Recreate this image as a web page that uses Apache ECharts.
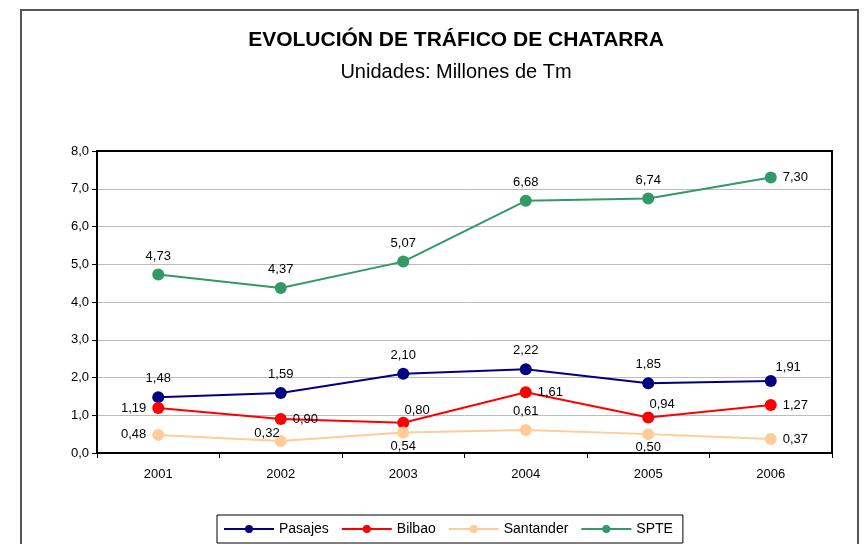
<!DOCTYPE html>
<html>
<head>
<meta charset="utf-8">
<script src="https://cdn.jsdelivr.net/npm/echarts@6/dist/echarts.min.js"></script>
<style>
  html, body { margin: 0; padding: 0; background: #fff; }
  #chart { width: 868px; height: 544px; }
</style>
</head>
<body>
<div id="chart"></div>
<script>
// datos
var years = ['2001', '2002', '2003', '2004', '2005', '2006'];
var pasajes = [1.48, 1.59, 2.10, 2.22, 1.85, 1.91];
var bilbao = [1.19, 0.90, 0.80, 1.61, 0.94, 1.27];
var santander = [0.48, 0.32, 0.54, 0.61, 0.50, 0.37];
var spte = [4.73, 4.37, 5.07, 6.68, 6.74, 7.30];
var yTicks = [0, 1, 2, 3, 4, 5, 6, 7, 8];

function fmt(v, d) {
    return v.toFixed(d).replace('.', ',');
}

// posiciones de etiquetas, una por punto
var labelPos = {
    Pasajes: ['top', 'top', 'top', 'top', 'top', ['90%', '-120%']],
    Bilbao: ['left', 'right', ['60%', '-110%'], 'right', ['60%', '-110%'], 'right'],
    Santander: ['left', ['-170%', '-70%'], 'bottom', 'top', 'bottom', 'right'],
    SPTE: ['top', 'top', 'top', 'top', 'top', 'right']
};

function makeSeries(name, values, color) {
    return {
        name: name,
        type: 'line',
        data: values.map(function (v, i) {
            var pos = labelPos[name][i];
            return { value: v, label: { position: pos, distance: pos === 'bottom' ? 1 : 6 } };
        }),
        symbol: 'circle',
        symbolSize: 12,
        lineStyle: { color: color, width: 2 },
        itemStyle: { color: color },
        label: {
            show: true,
            color: '#000',
            fontSize: 13,
            formatter: function (p) { return fmt(p.value, 2); }
        }
    };
}

var chart = echarts.init(document.getElementById('chart'));
chart.setOption({
    animation: false,
    textStyle: { fontFamily: 'Liberation Sans, Arial, sans-serif' },
    graphic: [{
        type: 'rect',
        shape: { x: 21, y: 10, width: 837, height: 560 },
        style: { fill: 'none', stroke: '#555', lineWidth: 2 },
        silent: true
    }, {
        type: 'rect',
        shape: { x: 97, y: 151, width: 735, height: 302 },
        style: { fill: 'none', stroke: '#000', lineWidth: 2 },
        silent: true,
        z: 10
    }],
    title: [{
        text: 'EVOLUCIÓN DE TRÁFICO DE CHATARRA',
        left: 451, top: 25, textAlign: 'center',
        textStyle: { fontSize: 21, fontWeight: 'bold', color: '#000' }
    }, {
        text: 'Unidades: Millones de Tm',
        left: 451, top: 57, textAlign: 'center',
        textStyle: { fontSize: 20, fontWeight: 'normal', color: '#000' }
    }],
    legend: {
        bottom: 1,
        left: 217,
        data: ['Pasajes', 'Bilbao', 'Santander', 'SPTE'],
        itemWidth: 50,
        itemHeight: 10,
        itemGap: 12,
        borderColor: '#000',
        borderWidth: 1,
        padding: [7, 10, 7, 6],
        textStyle: { fontSize: 14, color: '#000' }
    },
    grid: { left: 97, right: 36, top: 151, bottom: 91 },
    xAxis: {
        type: 'category',
        data: years,
        boundaryGap: true,
        axisLine: { lineStyle: { color: '#000', width: 2 } },
        axisTick: { show: true, length: 5, lineStyle: { color: '#000' } },
        axisLabel: { color: '#000', fontSize: 13, margin: 15 },
        splitLine: { show: false }
    },
    yAxis: {
        type: 'value',
        min: yTicks[0],
        max: yTicks[yTicks.length - 1],
        interval: 1,
        axisLine: { show: true, lineStyle: { color: '#000', width: 2 } },
        axisTick: { show: true, length: 5, lineStyle: { color: '#000' } },
        axisLabel: { color: '#000', fontSize: 13, margin: 8, formatter: function (v) { return fmt(v, 1); } },
        splitLine: { show: true, lineStyle: { color: '#bbb', width: 1 } }
    },
    series: [
        makeSeries('Pasajes', pasajes, '#000080'),
        makeSeries('Bilbao', bilbao, '#ff0000'),
        makeSeries('Santander', santander, '#ffcc99'),
        makeSeries('SPTE', spte, '#339966')
    ]
});
</script>
</body>
</html>
